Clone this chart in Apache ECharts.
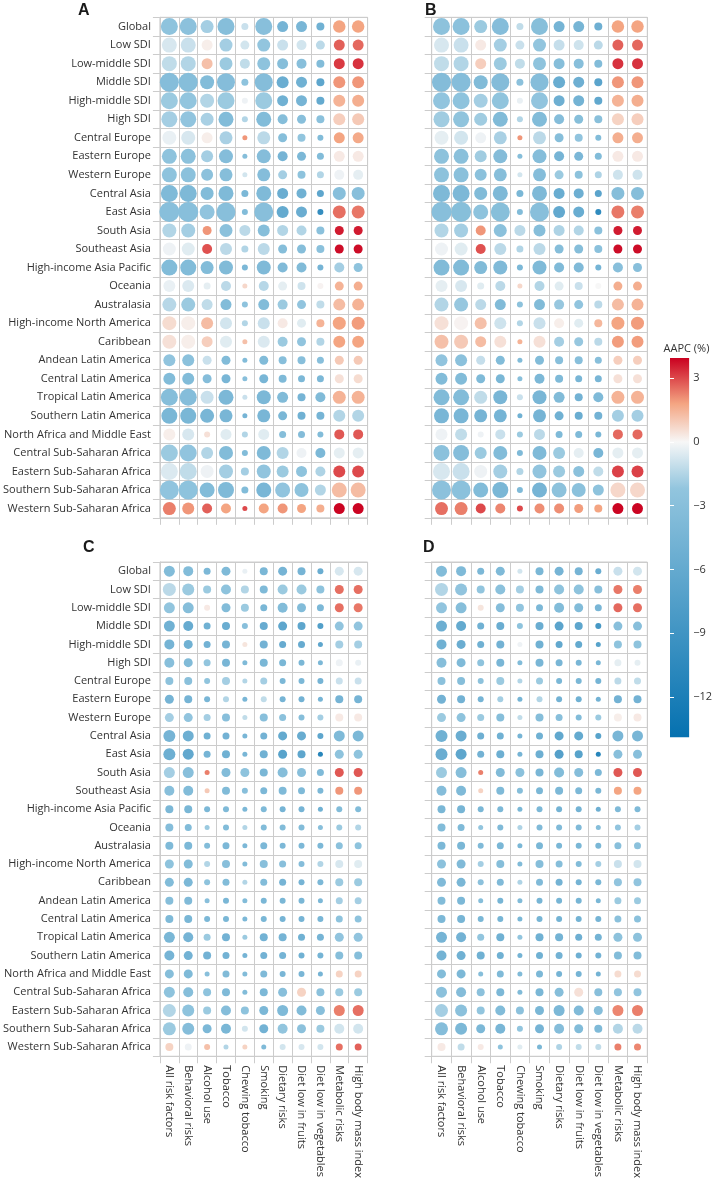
<!DOCTYPE html>
<html><head><meta charset="utf-8">
<script src="https://cdn.jsdelivr.net/npm/echarts@6/dist/echarts.min.js"></script>
<style>html,body{margin:0;padding:0;background:#fff}#c{width:715px;height:1181px}</style>
</head><body><div id="c"></div><script>
const riskFactors = ["All risk factors","Behavioral risks","Alcohol use","Tobacco","Chewing tobacco","Smoking","Dietary risks","Diet low in fruits","Diet low in vegetables","Metabolic risks","High body mass index"];
const regions = ["Global","Low SDI","Low-middle SDI","Middle SDI","High-middle SDI","High SDI","Central Europe","Eastern Europe","Western Europe","Central Asia","East Asia","South Asia","Southeast Asia","High-income Asia Pacific","Oceania","Australasia","High-income North America","Caribbean","Andean Latin America","Central Latin America","Tropical Latin America","Southern Latin America","North Africa and Middle East","Central Sub-Saharan Africa","Eastern Sub-Saharan Africa","Southern Sub-Saharan Africa","Western Sub-Saharan Africa"];
const panelLabels = ["A","B","C","D"];
const colorbarTicks = [-12,-9,-6,-3,0,3];
const colorbarRange = [-13.9, 3.95];

// AAPC (%) per region (rows) x risk factor (columns)
const aapcA = [
[-2.5,-2.7,-1.8,-3.2,-1.0,-3.0,-4.5,-4.3,-5.0,1.8,1.8],
[-0.7,-1.0,0.2,-1.8,-0.8,-2.2,-1.0,-0.8,-1.3,2.7,2.6],
[-1.2,-1.5,1.2,-2.0,-1.2,-2.5,-3.2,-3.0,-3.5,3.2,3.3],
[-3.3,-3.2,-3.5,-3.3,-2.5,-3.3,-5.5,-5.0,-6.5,2.0,2.0],
[-2.0,-2.2,-1.5,-2.0,-0.2,-2.0,-5.0,-4.5,-6.0,1.5,1.6],
[-1.8,-2.3,-1.7,-3.5,-1.5,-3.5,-3.2,-3.0,-2.8,0.9,1.0],
[-0.3,-0.7,0.2,-1.7,2.0,-1.3,-3.2,-2.2,-3.5,1.8,1.7],
[-2.5,-2.8,-1.8,-3.3,-3.2,-3.3,-4.5,-4.0,-3.5,0.3,0.3],
[-2.5,-2.8,-2.7,-3.2,-0.8,-3.3,-1.8,-2.5,-1.5,-0.2,-0.4],
[-3.8,-3.9,-3.5,-3.8,-4.0,-3.8,-5.5,-5.0,-6.5,-3.0,-3.0],
[-3.0,-3.0,-2.3,-3.0,-3.5,-3.0,-6.0,-5.5,-10.0,2.5,2.4],
[-1.5,-1.8,2.0,-2.8,-1.3,-3.2,-1.5,-1.5,-2.8,3.6,3.6],
[-0.2,-0.5,2.9,-1.3,-1.5,-1.3,-3.2,-3.2,-2.8,3.8,3.8],
[-3.5,-3.5,-3.5,-3.6,-4.0,-3.7,-3.7,-3.6,-4.5,-1.8,-2.5],
[-0.3,-0.6,-0.4,-1.3,0.7,-1.4,-0.4,-0.9,0.1,1.5,1.6],
[-1.4,-2.0,-1.2,-3.5,-2.5,-3.5,-2.0,-2.3,-1.2,1.3,1.5],
[0.6,0.2,1.3,-0.8,-1.5,-1.0,0.3,-0.5,1.5,1.8,1.9],
[0.5,0.2,0.9,-0.5,1.2,-0.6,-2.0,-2.3,-1.5,1.8,1.8],
[-2.3,-2.8,-1.0,-3.5,-3.5,-3.5,-3.0,-3.0,-3.0,1.0,1.0],
[-3.5,-3.5,-3.3,-4.3,-3.0,-4.3,-3.8,-4.0,-4.0,0.5,0.6],
[-3.2,-3.3,-1.0,-4.0,-1.0,-4.0,-3.6,-4.5,-3.6,1.5,1.5],
[-4.2,-4.2,-4.3,-4.3,-4.5,-4.3,-4.2,-5.0,-4.5,-1.5,-1.5],
[0.2,-0.7,0.5,-0.5,-1.5,-0.5,-3.2,-3.4,-3.5,2.8,2.8],
[-2.0,-2.3,-1.5,-3.5,-3.5,-3.8,-1.5,-0.2,-4.0,-0.4,-0.4],
[-0.6,-1.2,-0.2,-1.8,-1.8,-2.3,-2.0,-2.5,-1.6,3.0,3.0],
[-2.3,-2.5,-3.5,-3.8,-3.5,-4.3,-2.3,-2.5,-1.5,1.3,1.3],
[2.3,2.0,2.7,1.8,3.0,1.8,2.0,1.8,1.6,3.9,3.9]];
const burdenA = [
[17,17,13,17,7,17,11,11,8,12.5,12.5],
[15,15,11,13,9,13,11,10,9,11,11],
[15,15,11,13,10,13,11,10,8,11,11],
[19,19,14,18,7,18,12,11,8,12,12],
[17,17,14,17,6,17,11,11,8,12,12],
[16,16,13,15,6,15,10,9,8,12,12],
[14,14,11,13,5,13,9,8,6,11,11],
[15,15,12,14,5,14,10,9,7,11,11],
[15,15,12,13,5,13,9,8,7,10,10],
[17,17,13,15,7,15,11,10,7,13,13],
[20,20,15,19,6,19,12,11,6,13,13],
[14,14,9,13,11,12,11,10,8,9,9],
[13,13,10,12,7,12,9,9,8,9,9],
[16,16,13,14,6,14,10,10,6,10,9],
[12,12,7,10,5,10,9,8,6,9,9],
[14,14,11,11,6,11,10,9,8,12,12],
[14,14,12,12,6,12,10,9,8,13,13],
[14,14,11,12,5,12,10,9,8,12,12],
[12,12,9,9,5,9,8,8,7,9,9],
[12,12,9,9,5,9,8,7,7,9,9],
[17,17,13,15,5,14,11,8,10,13,13],
[16,16,14,13,5,13,9,8,8,12,12],
[12,12,6,11,6,11,7,7,6,10,10],
[17,17,12,14,6,14,12,10,10,11,11],
[17,17,13,14,8,14,12,11,10,12,12],
[19,19,15,16,7,15,15,14,11,15,15],
[13,12,10,10,5,10,10,9,8,11,11]];

const aapcB = [
[-2.6,-2.8,-2.0,-3.3,-1.2,-3.1,-4.6,-4.4,-5.2,1.8,1.8],
[-0.7,-1.0,0.3,-1.8,-1.0,-2.2,-1.1,-0.9,-1.3,2.7,2.6],
[-1.2,-1.5,0.9,-2.0,-1.2,-2.5,-3.2,-3.0,-3.5,3.3,3.3],
[-3.4,-3.3,-3.6,-3.4,-2.7,-3.3,-5.6,-5.2,-6.8,2.0,2.0],
[-2.3,-2.5,-1.8,-2.4,-0.3,-2.3,-5.2,-4.7,-6.3,1.5,1.6],
[-1.9,-2.4,-1.9,-3.6,-1.5,-3.5,-3.3,-3.1,-2.9,0.8,0.9],
[-0.4,-0.8,-0.2,-1.7,2.0,-1.3,-3.2,-2.3,-3.5,1.6,1.6],
[-2.6,-2.9,-1.9,-3.4,-3.2,-3.3,-4.5,-4.1,-3.5,0.3,0.3],
[-2.6,-2.9,-2.8,-3.2,-0.8,-3.3,-2.0,-2.6,-1.6,-0.9,-0.9],
[-3.9,-4.0,-3.6,-3.9,-4.2,-3.9,-5.6,-5.2,-6.8,-3.2,-3.2],
[-3.0,-3.1,-2.5,-3.1,-3.5,-3.0,-6.1,-5.6,-10.3,2.4,2.3],
[-1.5,-1.8,2.0,-2.8,-1.3,-3.2,-1.6,-1.5,-2.8,3.6,3.6],
[-0.2,-0.5,2.9,-1.3,-1.5,-1.3,-3.2,-3.2,-2.8,3.8,3.8],
[-3.6,-3.6,-3.6,-3.7,-4.0,-3.8,-3.8,-3.7,-4.6,-3.0,-3.0],
[-0.4,-0.7,-0.5,-1.3,0.7,-1.5,-0.5,-1.0,0.0,1.6,1.6],
[-1.5,-2.1,-1.3,-3.6,-2.6,-3.6,-2.1,-2.3,-1.3,1.3,1.5],
[0.5,0.1,1.2,-0.9,-1.5,-1.0,0.2,-0.5,1.4,1.8,1.9],
[1.2,1.0,1.3,0.5,1.5,0.5,-1.8,-2.1,-1.3,1.9,1.9],
[-2.3,-2.8,-1.1,-3.5,-3.5,-3.5,-3.0,-3.0,-3.0,0.9,0.9],
[-3.5,-3.5,-3.8,-4.2,-3.0,-4.0,-3.8,-4.3,-4.3,0.5,0.5],
[-3.6,-3.5,-1.2,-4.3,-1.0,-4.3,-3.6,-4.8,-3.8,1.5,1.5],
[-4.3,-4.3,-4.5,-4.6,-5.0,-4.5,-5.0,-5.5,-4.8,-1.8,-1.8],
[-0.2,-1.2,-0.2,-1.0,-2.0,-1.3,-3.8,-3.8,-4.2,2.6,2.6],
[-2.8,-3.3,-2.0,-3.5,-3.8,-3.8,-2.0,-0.4,-4.3,-0.4,-0.4],
[-0.7,-1.0,-0.2,-1.8,-1.5,-2.3,-2.0,-2.8,-1.2,3.1,3.1],
[-2.7,-2.8,-3.5,-4.2,-3.8,-4.5,-2.6,-2.8,-2.5,0.7,0.7],
[2.5,2.3,3.0,2.2,3.0,2.1,2.1,1.9,1.8,3.9,3.9]];
const burdenB = [
[17,17,13,17,7,17,11,11,8,12.5,12.5],
[15,15,11,13,9,13,11,10,9,11,11],
[15,15,11,13,10,13,11,10,8,11,11],
[19,19,14,18,7,18,12,11,8,12,12],
[17,17,14,17,6,17,11,11,8,12,12],
[16,16,13,15,6,15,10,9,8,12,12],
[14,14,11,13,5,13,9,8,6,11,11],
[15,15,12,14,5,14,10,9,7,11,11],
[15,15,12,13,5,13,9,8,7,10,10],
[17,17,13,15,7,15,11,10,7,13,13],
[20,20,15,19,6,19,12,11,6,13,13],
[14,14,10,13,11,12,11,10,8,9,9],
[13,13,10,12,7,12,9,9,8,9,9],
[16,16,13,14,6,14,10,10,6,10,9],
[12,12,7,10,5,10,9,8,6,9,9],
[14,14,11,11,6,11,10,9,8,12,12],
[14,14,12,12,6,12,10,9,8,13,13],
[14,14,11,12,5,12,10,9,8,12,12],
[12,12,9,9,5,9,8,8,7,9,9],
[12,12,9,9,5,10,8,7,7,9,9],
[16,16,13,14,6,14,11,8,10,13,13],
[15,15,13,13,5,13,9,8,8,12,12],
[12,12,6,10,6,11,7,7,6,10,10],
[16,16,12,14,6,14,12,10,10,11,11],
[17,17,13,14,7,14,12,11,10,12,12],
[19,19,15,16,6,15,15,14,11,15,15],
[13,13,10,10,6,10,10,9,8,11,11]];

const aapcC = [
[-3.5,-3.5,-4.0,-3.8,-0.3,-4.2,-4.5,-4.5,-5.5,-0.7,-0.7],
[-1.3,-2.0,-2.0,-2.5,-1.5,-3.8,-2.0,-2.0,-2.5,2.5,2.5],
[-2.2,-3.2,0.3,-3.5,-2.0,-4.2,-3.5,-3.5,-4.0,2.5,2.4],
[-5.0,-5.8,-5.0,-5.5,-3.0,-5.8,-6.5,-6.5,-7.5,-2.3,-2.3],
[-4.5,-5.0,-4.8,-4.5,0.4,-4.8,-5.8,-5.8,-6.5,-1.8,-1.8],
[-3.0,-3.6,-2.2,-4.3,-3.8,-4.2,-4.2,-4.2,-4.0,-0.2,-0.3],
[-2.6,-2.9,-2.4,-1.8,-1.5,-1.8,-4.0,-4.0,-4.5,-1.0,-1.0],
[-4.5,-4.5,-4.3,-1.5,-4.3,-1.2,-4.5,-4.8,-4.5,-4.5,-4.5],
[-1.8,-2.3,-1.8,-3.0,-1.2,-3.0,-2.8,-3.2,-1.8,0.3,0.3],
[-4.5,-5.2,-5.0,-4.8,-4.3,-4.8,-6.0,-5.7,-6.5,-3.8,-4.0],
[-5.3,-6.2,-4.5,-5.0,-4.3,-5.0,-7.0,-6.5,-11.0,-2.5,-2.5],
[-1.8,-3.0,2.3,-3.5,-2.5,-4.2,-3.2,-3.0,-3.8,2.8,2.8],
[-3.0,-3.5,1.0,-3.6,-3.0,-4.0,-3.8,-3.8,-4.0,2.0,2.0],
[-4.0,-4.2,-4.0,-3.8,-4.0,-3.8,-4.5,-4.5,-5.0,-3.5,-3.5],
[-3.3,-3.5,-2.0,-3.5,-1.5,-3.5,-3.5,-3.5,-3.0,-2.0,-1.5],
[-3.8,-4.0,-3.5,-4.0,-4.0,-4.0,-4.0,-4.0,-4.0,-2.8,-2.5],
[-2.5,-3.5,-1.5,-3.0,-3.5,-3.0,-3.0,-3.3,-1.5,-0.7,-0.5],
[-3.5,-4.0,-2.5,-3.5,-1.5,-3.5,-4.5,-4.5,-4.0,-2.0,-2.0],
[-3.2,-3.7,-3.0,-4.2,-3.5,-4.2,-4.2,-4.2,-4.0,-1.8,-1.8],
[-3.8,-4.2,-4.0,-4.2,-4.0,-4.2,-4.5,-4.5,-4.3,-2.5,-2.5],
[-4.2,-4.5,-2.0,-4.8,-2.0,-4.8,-4.5,-5.0,-4.5,-2.3,-2.3],
[-4.5,-4.8,-4.8,-4.8,-4.5,-4.8,-4.6,-5.0,-4.6,-3.2,-3.2],
[-3.2,-3.8,-3.0,-3.6,-3.5,-3.8,-4.3,-4.3,-4.5,0.8,0.8],
[-2.5,-3.2,-2.5,-3.8,-3.5,-4.0,-3.0,0.8,-2.8,-2.0,-2.0],
[-1.5,-2.5,-2.0,-3.3,-2.5,-4.0,-3.8,-3.5,-3.0,2.3,2.5],
[-2.0,-3.3,-4.0,-4.2,-0.8,-4.8,-2.2,-2.7,-2.0,-0.8,-0.8],
[0.8,-0.2,1.2,-1.5,0.8,-3.8,-0.8,-0.7,-0.8,2.5,2.7]];
const burdenC = [
[11,10,7,9,5,8,9,8,6,9,9],
[13,12,8,10,8,8,10,10,8,9,9],
[11,11,6,9,8,7,10,9,7,9,9],
[11,10,7,8,6,8,9,8,6,9,9],
[10,9,7,8,5,8,7,7,5,8,8],
[10,9,7,8,5,8,7,6,5,7,6],
[8,8,6,8,5,7,6,6,6,7,7],
[9,8,6,6,5,6,6,6,5,8,8],
[9,9,7,8,5,8,7,6,6,8,8],
[12,11,7,7,5,7,9,9,6,11,11],
[12,11,7,8,5,8,9,8,5,9,9],
[11,11,5,9,9,8,10,9,7,9,9],
[10,10,5,8,6,7,8,7,6,8,8],
[8,8,6,6,5,6,6,6,5,6,6],
[8,7,5,6,5,6,6,6,5,6,6],
[8,8,6,7,5,7,6,6,6,7,7],
[9,9,6,8,5,8,7,6,6,8,8],
[9,9,6,7,5,7,7,6,6,8,8],
[8,8,5,6,5,6,6,6,5,7,7],
[8,8,6,6,5,6,6,6,6,7,7],
[11,10,7,8,5,8,8,7,7,9,9],
[10,9,8,7,5,7,7,6,6,8,8],
[9,9,5,7,5,7,6,6,5,7,7],
[11,10,8,8,5,8,9,9,8,8,8],
[13,12,8,10,8,9,11,10,9,11,11],
[13,12,9,10,6,9,10,9,8,10,10],
[8,7,6,5,5,5,6,6,6,7,7]];

const aapcD = [
[-3.5,-3.8,-4.0,-3.8,-0.8,-4.2,-4.5,-4.5,-5.5,-1.0,-0.8],
[-1.5,-2.3,-2.2,-2.8,-1.8,-3.8,-2.5,-2.5,-3.0,2.4,2.3],
[-2.3,-3.2,0.4,-3.3,-2.3,-4.0,-3.5,-3.5,-4.3,2.6,2.5],
[-5.3,-6.0,-5.0,-5.5,-2.5,-5.5,-6.8,-6.5,-8.5,-3.0,-3.0],
[-5.0,-5.5,-5.0,-4.8,-0.2,-5.0,-6.2,-6.0,-7.0,-2.5,-2.5],
[-3.2,-3.8,-2.5,-4.3,-3.5,-4.3,-4.3,-4.3,-4.2,-0.4,-0.4],
[-2.8,-3.2,-2.6,-2.0,-1.5,-2.0,-4.2,-4.2,-4.6,-1.3,-1.2],
[-4.8,-4.8,-4.5,-1.8,-4.5,-1.5,-4.8,-5.0,-4.8,-4.8,-4.8],
[-2.0,-2.5,-2.0,-3.2,-1.2,-3.2,-3.0,-3.5,-2.0,0.2,0.3],
[-5.0,-5.5,-5.2,-5.0,-4.5,-5.0,-6.3,-6.0,-7.0,-4.3,-4.3],
[-5.5,-6.5,-4.8,-5.3,-4.5,-5.3,-7.3,-7.0,-11.0,-3.0,-3.0],
[-2.0,-3.2,2.3,-3.6,-2.8,-4.3,-3.5,-3.3,-4.0,2.8,2.8],
[-3.3,-3.8,0.8,-3.8,-3.2,-4.2,-4.0,-4.0,-4.2,1.8,1.8],
[-4.2,-4.4,-4.2,-4.0,-4.2,-4.0,-4.7,-4.7,-5.2,-3.8,-3.8],
[-3.5,-3.8,-2.2,-3.7,-1.6,-3.7,-3.7,-3.7,-3.2,-2.3,-1.8],
[-4.0,-4.2,-3.7,-4.2,-4.2,-4.2,-4.2,-4.2,-4.2,-3.0,-2.8],
[-2.8,-3.7,-1.8,-3.2,-3.6,-3.2,-3.2,-3.5,-1.8,-1.0,-0.8],
[-3.7,-4.2,-2.7,-3.7,-1.6,-3.7,-4.7,-4.7,-4.2,-2.3,-2.3],
[-3.5,-4.0,-3.2,-4.4,-3.6,-4.4,-4.4,-4.4,-4.2,-2.0,-2.0],
[-4.0,-4.4,-4.2,-4.4,-4.2,-4.4,-4.7,-4.7,-4.5,-2.8,-2.8],
[-4.5,-4.8,-2.2,-5.0,-2.2,-5.0,-4.7,-5.2,-4.7,-2.6,-2.6],
[-4.7,-5.0,-5.0,-5.0,-4.7,-5.0,-4.8,-5.2,-4.8,-3.5,-3.5],
[-3.5,-4.0,-3.2,-3.8,-3.6,-4.0,-4.5,-4.5,-4.7,0.6,0.6],
[-2.8,-3.4,-2.7,-4.0,-3.6,-4.2,-3.2,0.5,-3.0,-2.3,-2.3],
[-1.8,-2.8,-2.2,-3.5,-2.7,-4.2,-4.0,-3.7,-3.2,2.2,2.3],
[-3.3,-4.0,-4.0,-4.3,-2.2,-4.5,-3.3,-3.5,-3.8,-1.5,-1.3],
[0.3,-1.2,0.3,-2.5,-0.5,-4.2,-1.6,-1.2,-1.2,2.3,2.2]];
const burdenD = burdenC;

const fontFamily = "'Open Sans', sans-serif";
const textColor = "#333333";
const gridColor = "#cccccc";
const colorAnchors = [[-13.9,[5,113,176]],[-2.2,[146,197,222]],[0,[247,247,247]],[1.8,[244,165,130]],[3.95,[202,0,32]]];

function colorFor(v){
  const a = colorAnchors;
  if (v <= a[0][0]) return rgb(a[0][1]);
  for (let i=1;i<a.length;i++){
    if (v <= a[i][0]){
      const t = (v - a[i-1][0]) / (a[i][0] - a[i-1][0]);
      const c0 = a[i-1][1], c1 = a[i][1];
      return rgb([0,1,2].map(k => c0[k] + (c1[k]-c0[k])*t));
    }
  }
  return rgb(a[a.length-1][1]);
}
function rgb(c){ return 'rgb(' + c.map(x=>Math.round(x)).join(',') + ')'; }

const chart = echarts.init(document.getElementById('c'), null, {renderer:'canvas'});

const gridsPos = [
  {left:152, top:17.3, width:215.6, height:500.5},
  {left:431.7, top:17.3, width:215.6, height:500.5},
  {left:152, top:562, width:215.6, height:500.5},
  {left:431.7, top:562, width:215.6, height:500.5}
];
const panelData = [[aapcA,burdenA],[aapcB,burdenB],[aapcC,burdenC],[aapcD,burdenD]];

const grid = gridsPos.map(g => Object.assign({show:true, borderColor:gridColor, borderWidth:1}, g));
grid.push({left:670, top:358, width:22.3, height:379.3});

const xAxis = [], yAxis = [], series = [];
for (let p=0;p<4;p++){
  const showX = p >= 2, showY = (p % 2) === 0;
  xAxis.push({
    type:'category', data:riskFactors, gridIndex:p, position:'bottom',
    axisLine:{show:true, lineStyle:{color:gridColor, width:1}},
    axisTick:{show:true, length:7, lineStyle:{color:gridColor, width:1}},
    splitLine:{show:true, lineStyle:{color:gridColor, width:1}},
    axisLabel:{show:showX, rotate:-90, margin:9, fontSize:11, color:textColor, fontFamily:fontFamily, interval:0}
  });
  yAxis.push({
    type:'category', data:regions, gridIndex:p, inverse:true, position:'left',
    axisLine:{show:true, lineStyle:{color:gridColor, width:1}},
    axisTick:{show:true, length:7, lineStyle:{color:gridColor, width:1}},
    splitLine:{show:true, lineStyle:{color:gridColor, width:1}},
    axisLabel:{show:showY, margin:9, fontSize:11, color:textColor, fontFamily:fontFamily, interval:0}
  });
  const [vals, sizes] = panelData[p];
  const data = [];
  for (let r=0;r<regions.length;r++){
    for (let c=0;c<riskFactors.length;c++){
      data.push({value:[c, r, vals[r][c], sizes[r][c]], itemStyle:{color:colorFor(vals[r][c])}});
    }
  }
  series.push({
    type:'scatter', xAxisIndex:p, yAxisIndex:p, data:data,
    symbolSize: v => v[3], itemStyle:{opacity:1}, silent:true, animation:false
  });
}

// colorbar
const cbMin = colorbarRange[0], cbMax = colorbarRange[1];
xAxis.push({type:'value', gridIndex:4, min:0, max:1, show:false});
const fmt = v => v < 0 ? '\u2212' + Math.abs(v) : String(v);
yAxis.push({
  type:'value', gridIndex:4, min:cbMin, max:cbMax, position:'right', z:10,
  axisLine:{show:false}, splitLine:{show:false},
  axisTick:{show:true, inside:true, length:4, customValues:colorbarTicks, lineStyle:{color:'#ffffff', width:1}},
  axisLabel:{show:true, customValues:colorbarTicks, formatter:fmt, margin:4, fontSize:11, color:textColor, fontFamily:fontFamily}
});
yAxis.push({
  type:'value', gridIndex:4, min:cbMin, max:cbMax, position:'left', z:10,
  axisLine:{show:false}, splitLine:{show:false},
  axisTick:{show:true, inside:true, length:4, customValues:colorbarTicks, lineStyle:{color:'#ffffff', width:1}},
  axisLabel:{show:false}
});
const gradStops = colorAnchors.map(a => ({offset:(cbMax - a[0])/(cbMax - cbMin), color:rgb(a[1])})).reverse();
series.push({
  type:'custom', xAxisIndex:4, yAxisIndex:5, silent:true, animation:false,
  data:[[0, cbMin]],
  renderItem:(params, api) => {
    const tl = api.coord([0, cbMax]);
    const br = api.coord([1, cbMin]);
    return {type:'rect', shape:{x:tl[0], y:tl[1], width:br[0]-tl[0], height:br[1]-tl[1]},
      style:{fill:new echarts.graphic.LinearGradient(0,0,0,1,gradStops)}};
  }
});

const letterPos = [[78,10.2],[425,10.2],[83,547.7],[423,547.7]];
const graphic = panelLabels.map((t,i) => ({
  type:'text', left:letterPos[i][0], top:letterPos[i][1]-8, z:20,
  style:{text:t, fontSize:16, fontWeight:'bold', fontFamily:"'Liberation Sans', Arial, sans-serif", fill:'#1a1a1a'}
}));
graphic.push({type:'text', x:686.5, y:349, z:20,
  style:{text:'AAPC (%)', fontSize:11, fontFamily:fontFamily, fill:textColor, align:'center', verticalAlign:'middle'}});

chart.setOption({animation:false, backgroundColor:'#ffffff', grid, xAxis, yAxis, series, graphic});
</script></body></html>
